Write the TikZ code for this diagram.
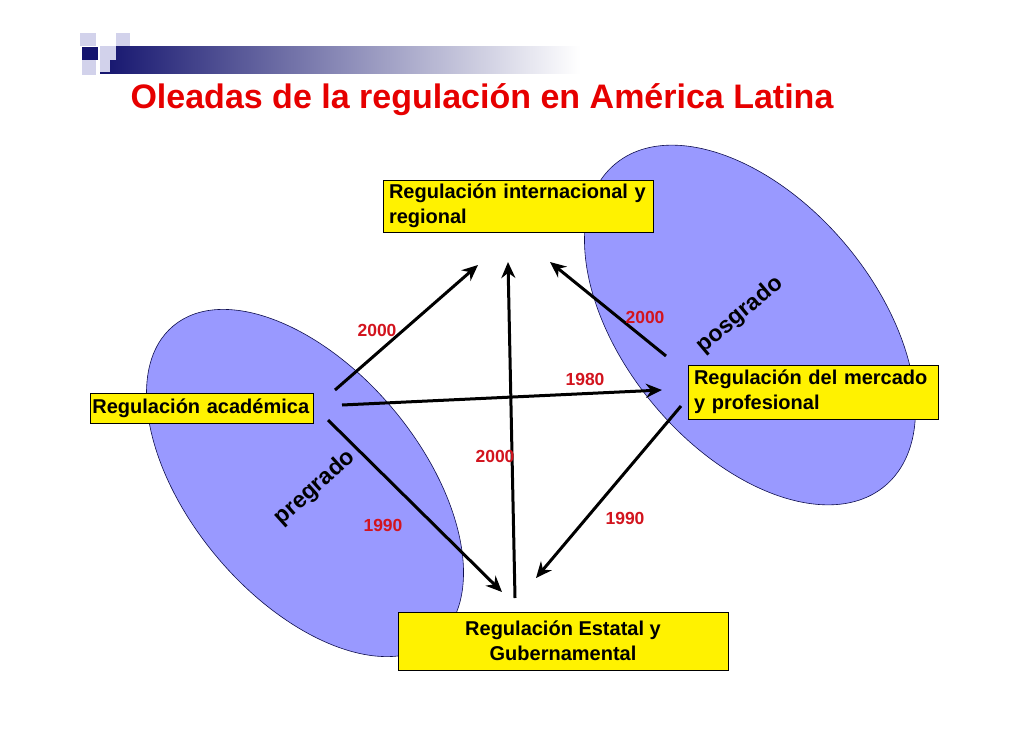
\documentclass[tikz,border=0pt]{standalone}
\usepackage{fontspec}
\setmainfont{Liberation Sans}
\usetikzlibrary{arrows.meta}
\definecolor{ell}{RGB}{153,153,255}
\definecolor{ttl}{RGB}{230,0,0}
\definecolor{yr}{RGB}{210,20,30}
\definecolor{navy}{RGB}{20,20,110}
\definecolor{lav}{RGB}{210,210,235}
\tikzset{
  box/.style={draw=black,fill=yellow,line width=0.8pt,font=\fontsize{20}{25}\selectfont\bfseries,inner sep=0pt},
  yearlbl/.style={text=yr,font=\fontsize{17.5}{20}\selectfont\bfseries},
  flow/.style={line width=3pt,-{Stealth[length=16pt,width=14pt]}},
  wave/.style={font=\fontsize{23}{26}\selectfont\bfseries},
  oval/.style={draw=navy!70!black,fill=ell,line width=0.6pt}
}
\begin{document}
\begin{tikzpicture}[x=1pt,y=-1pt]
\useasboundingbox (0,0) rectangle (1030,728);
% header bar
\shade[left color=navy,right color=white] (100,46) rectangle (580,73);
\fill[lav] (80,33) rectangle (96,46);
\fill[lav] (116,33) rectangle (130,46);
\fill[lav] (100,46) rectangle (116,60);
\fill[navy] (82,47) rectangle (98,60);
\fill[lav] (82,60) rectangle (96,75);
\fill[lav] (100,60) rectangle (110,72);
\node[anchor=west,text=ttl,font=\fontsize{34}{38}\selectfont\bfseries] (title) at (127,100) {Oleadas de la regulación en América Latina};
% ellipses
\draw[oval] (305,483) ellipse [x radius=205,y radius=115,rotate=-50];
\draw[oval] (750,325) ellipse [x radius=210,y radius=125,rotate=-50];
\node[wave,rotate=42] (pre) at (315,488) {pregrado};
\node[wave,rotate=40] (pos) at (740,315) {posgrado};
% boxes
\node[box,minimum width=270,minimum height=52,align=left,text width=258] (intl) at (518,206) {Regulación internacional y\\regional};
\node[box,minimum width=223,minimum height=30,anchor=west,align=left,text width=219] (acad) at (90,408) {Regulación académica};
\node[box,minimum width=250,minimum height=54,align=left,text width=238] (merc) at (813,392) {Regulación del mercado\\y profesional};
\node[box,minimum width=330,minimum height=58,align=center] (est) at (563,641) {Regulación Estatal y\\Gubernamental};
% arrow ends
\coordinate (a1s) at (335,390); \coordinate (a1e) at (478,265);
\coordinate (a2s) at (342,405); \coordinate (a2e) at (662,390);
\coordinate (a3s) at (328,420); \coordinate (a3e) at (502,592);
\coordinate (a4s) at (515,598); \coordinate (a4e) at (508,262);
\coordinate (a5s) at (666,356); \coordinate (a5e) at (550,262);
\coordinate (a6s) at (681,406); \coordinate (a6e) at (536,578);
\draw[flow] (a1s) -- (a1e);
\draw[flow] (a2s) -- (a2e);
\draw[flow] (a3s) -- (a3e);
\draw[flow] (a4s) -- (a4e);
\draw[flow] (a5s) -- (a5e);
\draw[flow] (a6s) -- (a6e);
% years
\node[yearlbl] (y1) at (377,330) {2000};
\node[yearlbl] (y2) at (585,379) {1980};
\node[yearlbl] (y3) at (383,525) {1990};
\node[yearlbl] (y4) at (495,456) {2000};
\node[yearlbl] (y5) at (645,317) {2000};
\node[yearlbl] (y6) at (625,518) {1990};
\end{tikzpicture}
\end{document}
